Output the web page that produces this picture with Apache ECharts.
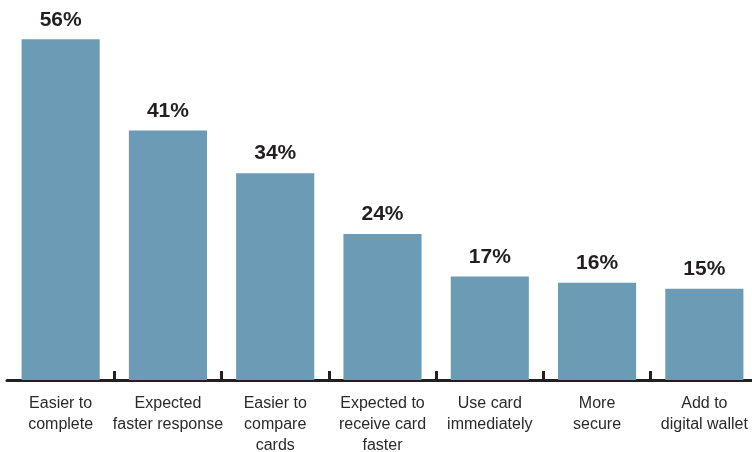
<!DOCTYPE html>
<html>
<head>
<meta charset="utf-8">
<script src="https://cdn.jsdelivr.net/npm/echarts@6/dist/echarts.min.js"></script>
<style>
  html, body { margin: 0; padding: 0; background: #fff; overflow: hidden; }
  #chart { width: 752px; height: 452px; }
</style>
</head>
<body>
<div id="chart"></div>
<script>
// Reasons given, share of respondents (%)
const categories = [
  'Easier to\ncomplete',
  'Expected\nfaster response',
  'Easier to\ncompare\ncards',
  'Expected to\nreceive card\nfaster',
  'Use card\nimmediately',
  'More\nsecure',
  'Add to\ndigital wallet'
];
const shares = [56, 41, 34, 24, 17, 16, 15];

const FONT = "'Liberation Sans Narrow', 'Arial Narrow', 'Liberation Sans', Arial, sans-serif";
const INK = '#231f20';

const chart = echarts.init(document.getElementById('chart'), null, { renderer: 'canvas', width: 752, height: 452 });
chart.setOption({
  animation: false,
  grid: {
    left: 7, right: -6, top: 15, height: 365,
    containLabel: false,
    outerBoundsMode: 'none'
  },
  xAxis: {
    type: 'category',
    data: categories,
    boundaryGap: true,
    axisLine: { lineStyle: { color: INK, width: 3 } },
    axisTick: {
      show: true,
      inside: true,
      length: 9,
      interval: function (index) { return index !== 0; },
      lineStyle: { color: INK, width: 3 }
    },
    axisLabel: {
      interval: 0,
      margin: 13,
      color: '#2a2a2a',
      fontFamily: FONT,
      fontSize: 16,
      lineHeight: 21
    }
  },
  yAxis: {
    type: 'value',
    min: 0,
    max: 60,
    show: false,
    splitLine: { show: false }
  },
  series: [{
    type: 'bar',
    data: shares,
    barWidth: '72.8%',
    itemStyle: { color: '#6b9bb5' },
    label: {
      show: true,
      position: 'top',
      distance: 9,
      formatter: '{c}%',
      color: INK,
      fontFamily: FONT,
      fontWeight: 'bold',
      fontSize: 21
    }
  }]
});
</script>
</body>
</html>
